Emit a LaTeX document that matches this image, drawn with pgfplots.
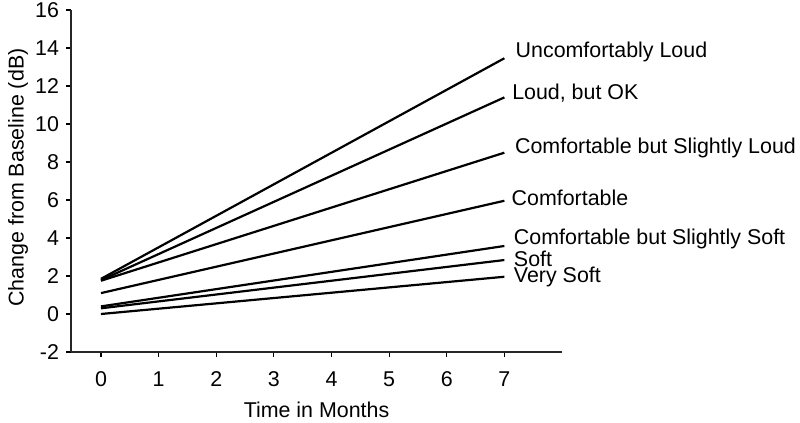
\documentclass[border=0pt]{standalone}
\usepackage{fontspec}
\setmainfont{Liberation Sans}
\usepackage{pgfplots}
\pgfplotsset{compat=1.18}
\begin{document}
\begin{tikzpicture}
\begin{axis}[
  scale only axis, width=245.5pt, height=171pt,
  xmin=-0.52, xmax=8, ymin=-2, ymax=16,
  axis x line=bottom, axis y line=left,
  axis line style={-, line width=0.8pt, black!85},
  xtick={0,...,7}, ytick={-2,0,...,16},
  tick align=outside, major tick length=2.5pt,
  tick style={black, line width=0.6pt},
  /pgf/number format/assume math mode=true,
  ticklabel style={font=\fontsize{10.7}{12}\selectfont},
  xticklabel shift=3.9pt,
  yticklabel shift=0pt,
  xlabel={Time in Months}, ylabel={Change from Baseline (dB)},
  every axis x label/.style={at={(axis description cs:0.5,0)}, yshift=-29pt, anchor=center, font=\fontsize{10.7}{12}\selectfont},
  every axis y label/.style={at={(axis description cs:-0.108,0.51)}, rotate=90, anchor=center, font=\fontsize{10.7}{12}\selectfont},
  clip=false,
]
\addplot[black, line width=1.1pt, mark=none] coordinates {(0,1.85) (7,13.46)};
\addplot[black, line width=1.1pt, mark=none] coordinates {(0,1.78) (7,11.40)};
\addplot[black, line width=1.1pt, mark=none] coordinates {(0,1.75) (7,8.49)};
\addplot[black, line width=1.1pt, mark=none] coordinates {(0,1.10) (7,5.96)};
\addplot[black, line width=1.1pt, mark=none] coordinates {(0,0.40) (7,3.58)};
\addplot[black, line width=1.1pt, mark=none] coordinates {(0,0.30) (7,2.84)};
\addplot[black, line width=1.1pt, mark=none] coordinates {(0,0.00) (7,1.96)};
\begin{scope}[every node/.style={anchor=west, inner sep=0pt, font=\fontsize{10.7}{12}\selectfont}]
\node at (axis cs:7.19,13.8) {Uncomfortably Loud};
\node at (axis cs:7.13,11.63) {Loud, but OK};
\node at (axis cs:7.18,8.74) {Comfortable but Slightly Loud};
\node at (axis cs:7.12,6.1) {Comfortable};
\node at (axis cs:7.16,3.95) {Comfortable but Slightly Soft};
\node at (axis cs:7.16,2.88) {Soft};
\node at (axis cs:7.16,1.96) {Very Soft};
\end{scope}
\coordinate (bl) at (rel axis cs:0,0);
\end{axis}
\pgfresetboundingbox
\path[use as bounding box] (bl) ++(-35.5pt,-35.5pt) rectangle ++(400pt,211.5pt);
\end{tikzpicture}
\end{document}
